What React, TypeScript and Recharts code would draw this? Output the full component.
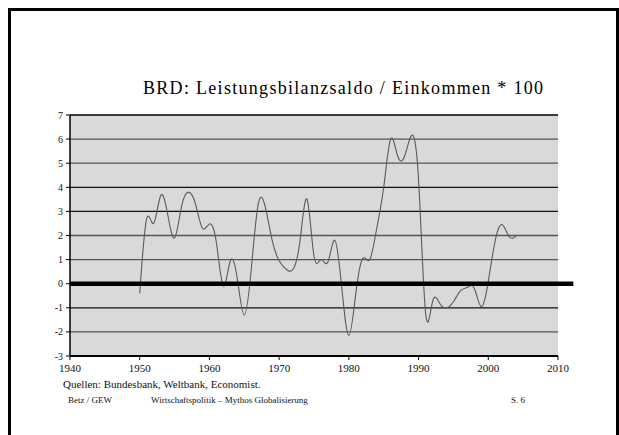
import {
  LineChart,
  Line,
  XAxis,
  YAxis,
  CartesianGrid,
  ReferenceLine,
} from "recharts";

const SERIF = "'Liberation Serif', 'Times New Roman', serif";

const years = [
  1950, 1951, 1952, 1953, 1954, 1955, 1956, 1957, 1958, 1959,
  1960, 1961, 1962, 1963, 1964, 1965, 1966, 1967, 1968, 1969,
  1970, 1971, 1972, 1973, 1974, 1975, 1976, 1977, 1978, 1979,
  1980, 1981, 1982, 1983, 1984, 1985, 1986, 1987, 1988, 1989,
  1990, 1991, 1992, 1993, 1994, 1995, 1996, 1997, 1998, 1999,
  2000, 2001, 2002, 2003, 2004,
];

// Leistungsbilanzsaldo in % des Einkommens
const saldo = [
  -0.4, 2.7, 2.5, 3.65, 2.9, 1.9, 3.2, 3.8, 3.3, 2.3,
  2.48, 1.7, -0.1, 0.95, 0.2, -1.3, 0.6, 3.3, 3.2, 1.8,
  0.95, 0.6, 0.6, 1.8, 3.5, 1.15, 1.0, 0.9, 1.8, -0.2,
  -2.15, -0.4, 1.05, 1.0, 2.3, 4.0, 6.0, 5.3, 5.3, 6.15,
  4.3, -1.2, -0.75, -0.8, -1.0, -0.75, -0.3, -0.15, -0.2, -0.95,
  0.1, 1.8, 2.45, 1.95, 1.98,
];

const xTicks = [1940, 1950, 1960, 1970, 1980, 1990, 2000, 2010];
const yTicks = [-3, -2, -1, 0, 1, 2, 3, 4, 5, 6, 7];
const gridValues = [7, 6, 5, 4, 3, 2, 1, -1, -2];

// gridlines look alternately black / grey in the original
const gridColors = ["#000", "#555", "#555", "#111", "#111", "#555", "#555", "#111", "#555"];

// the thick zero line runs a little past the end of the x axis
const zeroLineEnd = 2012.2;

const data = years.map((year, i) => ({ year, value: saldo[i] }));

const footText = {
  position: "absolute" as const,
  fontFamily: SERIF,
  color: "#111",
  whiteSpace: "nowrap" as const,
  lineHeight: 1,
};

export default function App() {
  return (
    <div style={{ position: "relative", width: 619, height: 435, overflow: "hidden" }}>
      <style>{"body { margin: 0; }"}</style>
      <div
        style={{
          position: "absolute",
          left: 8,
          top: 8,
          width: 611,
          height: 427,
          boxSizing: "border-box",
          borderTop: "3px solid #000",
          borderLeft: "3px solid #000",
          borderRight: "3px solid #000",
        }}
      />
      <div
        style={{
          ...footText,
          left: 143,
          top: 79,
          fontSize: 18,
          letterSpacing: 1.3,
          color: "#000",
        }}
      >
        BRD: Leistungsbilanzsaldo / Einkommen * 100
      </div>
      <div style={{ position: "absolute", left: 0, top: 0 }}>
        <LineChart
          width={619}
          height={427}
          data={data}
          margin={{ top: 115, right: 61, left: 20, bottom: 41 }}
        >
          <CartesianGrid fill="#d9d9d9" horizontal={false} vertical={false} />
          {gridValues.map((v, i) => (
            <ReferenceLine key={v} y={v} stroke={gridColors[i]} strokeWidth={1.3} />
          ))}
          <XAxis
            dataKey="year"
            type="number"
            domain={[1940, 2010]}
            ticks={xTicks}
            height={30}
            axisLine={{ stroke: "#000", strokeWidth: 2 }}
            tickLine={{ stroke: "#000" }}
            tickSize={4}
            tickMargin={4}
            tick={{ fill: "#111", fontSize: 11, fontFamily: SERIF }}
          />
          <YAxis
            type="number"
            domain={[-3, 7]}
            ticks={yTicks}
            width={50}
            interval={0}
            axisLine={{ stroke: "#000", strokeWidth: 1.5 }}
            tickLine={{ stroke: "#000" }}
            tickSize={4}
            tickMargin={3}
            tick={{ fill: "#111", fontSize: 10, fontFamily: SERIF }}
          />
          <Line
            type="natural"
            dataKey="value"
            stroke="#5a5a5a"
            strokeWidth={1.1}
            dot={false}
            isAnimationActive={false}
          />
          <ReferenceLine
            segment={[
              { x: 1940, y: 0 },
              { x: zeroLineEnd, y: 0 },
            ]}
            ifOverflow="visible"
            stroke="#000"
            strokeWidth={4.5}
          />
        </LineChart>
      </div>
      <div style={{ ...footText, left: 63, top: 379, fontSize: 11 }}>
        Quellen: Bundesbank, Weltbank, Economist.
      </div>
      <div style={{ ...footText, left: 68, top: 396, fontSize: 9 }}>Betz / GEW</div>
      <div style={{ ...footText, left: 151, top: 396, fontSize: 9 }}>
        Wirtschaftspolitik – Mythos Globalisierung
      </div>
      <div style={{ ...footText, left: 511, top: 396, fontSize: 9 }}>S. 6</div>
    </div>
  );
}
